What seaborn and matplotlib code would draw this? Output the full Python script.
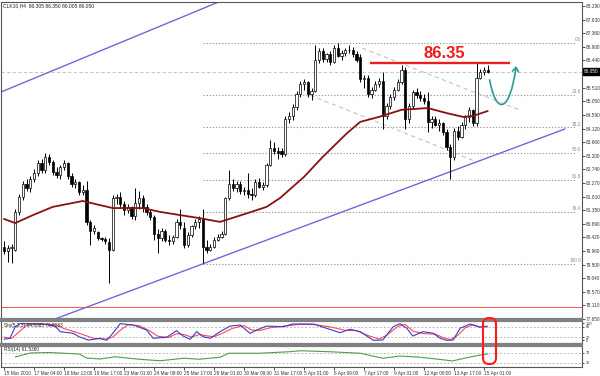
import numpy as np
import pandas as pd
import matplotlib
matplotlib.use("Agg")
import matplotlib.pyplot as plt
import seaborn as sns
from matplotlib.patches import FancyBboxPatch, FancyArrowPatch
from matplotlib.path import Path
from matplotlib.transforms import IdentityTransform

# ---------------- data ----------------
opens = [80.10, 79.95, 80.05, 80.00, 81.30, 81.80, 82.25, 82.10, 82.40, 82.60,
         82.95, 82.70, 83.15, 83.00, 82.65, 82.55, 82.80, 82.95, 82.50, 82.25,
         82.30, 81.95, 82.05, 80.95, 80.65, 80.60, 80.40, 80.38, 80.25, 80.00,
         81.75, 81.80, 81.55, 81.35, 81.45, 81.15, 81.60, 81.75, 81.45, 81.30,
         81.10, 80.55, 80.40, 80.65, 80.35, 80.30, 80.45, 80.95, 80.75, 80.15,
         80.50, 80.80, 80.95, 81.05, 80.10, 80.00, 80.10, 80.35, 80.45, 80.55,
         81.75, 82.25, 82.10, 82.25, 82.00, 82.05, 81.90, 81.85, 82.30, 82.15,
         82.20, 82.90, 83.45, 83.35, 83.35, 83.25, 84.45, 84.55, 84.85, 85.30,
         85.65, 85.70, 85.30, 85.40, 86.45, 86.75, 86.50, 86.65, 86.40, 86.85,
         86.60, 86.70, 86.80, 86.78, 86.65, 86.55, 85.80, 85.85, 85.30, 85.45,
         85.65, 85.75, 84.55, 84.90, 85.20, 85.45, 85.70, 86.10, 84.45, 84.90,
         85.35, 85.25, 85.15, 85.05, 84.35, 84.45, 84.25, 84.30, 84.00, 83.50,
         83.15, 84.05, 83.85, 84.25, 84.50, 84.75, 84.30, 85.85, 86.05, 86.10]
highs = [80.30, 80.15, 80.20, 81.40, 81.90, 82.35, 82.40, 82.50, 82.75, 83.05,
         83.10, 83.30, 83.25, 83.05, 82.80, 82.90, 83.05, 83.00, 82.60, 82.40,
         82.35, 82.20, 82.35, 81.00, 80.85, 80.65, 80.45, 80.45, 80.40, 81.85,
         81.90, 81.95, 81.65, 81.55, 81.50, 82.10, 82.00, 81.85, 81.55, 81.40,
         81.20, 80.70, 80.75, 80.70, 80.50, 80.50, 81.05, 81.40, 80.95, 80.60,
         80.85, 81.05, 81.15, 81.40, 80.35, 80.20, 80.45, 80.55, 80.65, 81.80,
         82.70, 82.40, 82.35, 82.35, 82.15, 82.60, 82.10, 82.40, 82.45, 82.30,
         82.95, 83.75, 83.65, 83.50, 83.45, 84.55, 84.70, 84.95, 85.40, 85.75,
         85.80, 85.75, 85.50, 86.95, 86.85, 86.85, 86.70, 86.75, 86.95, 87.03,
         86.80, 86.85, 86.95, 86.90, 86.75, 86.65, 85.95, 85.95, 85.55, 85.75,
         85.85, 86.05, 85.00, 85.30, 85.55, 85.80, 86.30, 86.20, 85.00, 85.45,
         85.50, 85.40, 85.30, 85.35, 84.55, 84.55, 84.45, 84.35, 84.10, 83.60,
         84.15, 84.20, 84.35, 84.60, 84.85, 84.80, 86.35, 86.15, 86.20, 86.30]
lows = [79.85, 79.60, 79.55, 79.95, 81.20, 81.70, 82.00, 81.95, 82.30, 82.50,
        82.60, 82.60, 82.90, 82.55, 82.45, 82.40, 82.70, 82.40, 82.15, 82.10,
        81.85, 81.85, 80.85, 80.15, 80.55, 80.35, 80.30, 80.20, 78.87, 79.95,
        81.55, 81.45, 81.20, 81.25, 81.05, 81.00, 81.40, 81.30, 81.20, 81.00,
        80.35, 79.90, 80.30, 80.25, 80.15, 80.20, 80.40, 80.70, 80.05, 80.10,
        80.45, 80.70, 80.75, 79.55, 79.90, 79.95, 80.05, 80.30, 80.40, 80.50,
        81.70, 82.00, 81.95, 81.90, 81.85, 81.75, 81.70, 81.80, 82.10, 82.05,
        82.15, 82.85, 83.25, 83.10, 83.15, 83.20, 84.30, 84.40, 84.75, 85.20,
        85.45, 85.20, 85.10, 85.35, 86.35, 86.40, 86.40, 86.30, 86.35, 86.55,
        86.45, 86.60, 86.70, 86.55, 86.40, 85.70, 85.50, 85.20, 85.15, 85.40,
        85.55, 84.10, 84.45, 84.80, 85.10, 85.40, 85.65, 84.10, 84.30, 84.80,
        85.15, 85.05, 84.95, 84.00, 84.15, 84.20, 84.05, 83.90, 83.40, 82.40,
        83.05, 83.75, 83.80, 84.10, 84.35, 84.20, 84.20, 85.80, 85.95, 86.00]
closes = [79.95, 80.05, 80.10, 81.30, 81.80, 82.25, 82.10, 82.40, 82.60, 82.95,
          82.70, 83.15, 83.00, 82.65, 82.55, 82.80, 82.95, 82.50, 82.25, 82.30,
          81.95, 82.05, 80.95, 80.65, 80.75, 80.40, 80.38, 80.30, 80.00, 81.75,
          81.80, 81.55, 81.35, 81.45, 81.15, 81.60, 81.75, 81.45, 81.30, 81.10,
          80.55, 80.40, 80.65, 80.35, 80.30, 80.45, 80.95, 80.85, 80.15, 80.50,
          80.80, 80.95, 81.05, 80.10, 80.00, 80.10, 80.35, 80.45, 80.55, 81.75,
          82.25, 82.10, 82.25, 82.00, 82.05, 81.90, 81.85, 82.30, 82.15, 82.20,
          82.90, 83.45, 83.35, 83.30, 83.25, 84.45, 84.55, 84.85, 85.30, 85.65,
          85.70, 85.30, 85.40, 86.45, 86.75, 86.50, 86.65, 86.40, 86.85, 86.60,
          86.70, 86.80, 86.78, 86.65, 86.45, 85.80, 85.85, 85.30, 85.45, 85.65,
          85.75, 84.55, 84.90, 85.20, 85.45, 85.70, 86.10, 84.45, 84.90, 85.35,
          85.25, 85.15, 85.05, 84.35, 84.45, 84.25, 84.30, 84.00, 83.50, 83.15,
          84.05, 83.85, 84.25, 84.50, 84.75, 84.30, 85.85, 86.05, 86.10, 86.05]

ma_bars = [0, 3, 7.7, 13, 21, 25.6, 29, 37, 41.6, 47, 52, 57.6, 65, 70, 73.6,
           80, 85, 91.5, 95, 100, 106, 113, 118, 122.4, 125, 129]
ma_vals = [81.05, 80.91, 81.18, 81.46, 81.66, 81.52, 81.42, 81.42, 81.29, 81.18,
           81.08, 80.95, 81.25, 81.46, 81.76, 82.48, 83.16, 83.97, 84.35, 84.52,
           84.76, 84.82, 84.65, 84.52, 84.55, 84.72]

lower_trend_bars = [13.6, 149.6]
lower_trend_prices = [77.65, 84.11]
upper_trend_bars = [-1.1, 70]
upper_trend_prices = [85.35, 89.10]
chan_a_bars = [95.5, 137.6]
chan_a_prices = [86.86, 84.75]
chan_b_bars = [81.6, 126.1]
chan_b_prices = [85.26, 82.99]

fib_levels = [87.03, 85.26, 84.16, 83.28, 82.39, 81.29, 79.52]
fib_labels = ['0.0', '23.6', '38.2', '50.0', '61.8', '76.4', '100.0']
fib_start, fib_end = 53, 152.5

resistance = 86.35
resistance_bars = [97.5, 135]
alert_level = 78.06
last_price = 86.05

arrow_bars = [129.5, 131.3, 134.8, 136.6]
arrow_prices = [85.78, 84.55, 84.65, 86.25]

price_ticks = [88.29, 87.83, 87.36, 86.90, 86.44, 85.98, 85.51, 85.05, 84.59, 84.12,
               83.66, 83.20, 82.74, 82.27, 81.81, 81.35, 80.89, 80.42, 79.96, 79.50,
               79.04, 78.57, 78.11, 77.65]

time_bars = list(range(0, 129, 8))
time_labels = ['15 Mar 2010', '17 Mar 04:00', '18 Mar 12:00', '19 Mar 17:00', '23 Mar 01:00',
               '24 Mar 09:00', '25 Mar 17:00', '29 Mar 01:00', '30 Mar 09:00', '31 Mar 17:00',
               '5 Apr 01:00', '6 Apr 09:00', '7 Apr 17:00', '9 Apr 01:00', '12 Apr 09:00',
               '13 Apr 17:00', '15 Apr 01:00']

stoch_k_bars = [0, 1.6, 3, 4.3, 10, 13.6, 15, 18.5, 20, 22.5, 25.6, 27.4, 29, 31, 34.5,
                38, 39.8, 43.4, 46, 47.8, 49.6, 51.4, 53.1, 55, 57.6, 60.3, 63, 65.6,
                67.4, 70, 74.4, 77, 79, 82.5, 86, 89.6, 92.3, 95, 98.5, 101, 103.8,
                105.6, 107.4, 109, 111.7, 114.5, 116.3, 118, 119.8, 121.6, 124.3,
                126.9, 128.8]
stoch_k = [8, 13, 81, 99, 98, 85, 52, 42, 22, 2, 13, 1, 42, 99, 91, 62, 13, 19, 58, 26,
           7, 52, 22, 13, 52, 85, 91, 42, 62, 85, 81, 97, 97, 97, 72, 46, 66, 52, 1, 3,
           81, 99, 72, 26, 52, 42, 13, 1, 3, 72, 97, 78, 85]
stoch_d_bars = [0, 2, 4, 6, 10, 14, 16, 19, 21, 24, 27, 29, 31, 33, 36, 39, 41, 44, 46,
                48, 50, 52, 54, 56, 58, 61, 64, 66, 68, 71, 75, 79, 83, 87, 91, 94, 97,
                100, 102, 105, 107, 109, 112, 115, 117, 119, 121, 123, 125, 127, 129]
stoch_d = [20, 12, 50, 90, 97, 92, 70, 50, 35, 12, 8, 20, 60, 92, 88, 55, 25, 18, 40,
           35, 20, 35, 28, 22, 40, 72, 88, 62, 58, 75, 85, 95, 93, 80, 60, 58, 30, 8,
           30, 82, 95, 55, 40, 38, 18, 5, 30, 75, 92, 80, 80]

rsi_bars = [3, 7, 12, 20, 22, 25.6, 29.6, 36, 41.6, 48, 52, 57.6, 60, 68, 76, 79, 87,
            95, 101, 105.6, 111, 117.6, 119.5, 124, 127, 129]
rsi_vals = [54, 70, 72, 66, 50, 46, 55, 45, 39, 49, 45, 53, 69, 69, 75, 79, 75, 69, 49,
            58, 53, 42, 38, 53, 62, 66]

# ---------------- figure ----------------
sns.set_theme(style="ticks")
plt.rcParams['font.family'] = ['Liberation Sans', 'DejaVu Sans']

W, H = 600.0, 376.0
fig = plt.figure(figsize=(6, 3.76), dpi=100)
fig.patch.set_facecolor('white')


def rect(x0, y0, x1, y1):
    return [x0 / W, 1 - y1 / H, (x1 - x0) / W, (y1 - y0) / H]


ax = fig.add_axes(rect(1, 2, 582, 319))
ax_s = fig.add_axes(rect(1, 321, 582, 344))
ax_r = fig.add_axes(rect(1, 346, 582, 367))

XMIN, XMAX = -0.8, 154.13
for a in (ax, ax_s, ax_r):
    a.set_xlim(XMIN, XMAX)
    a.set_facecolor('white')
    for s in a.spines.values():
        s.set_color('#555555')
        s.set_linewidth(0.8)
for a, side in ((ax, 'bottom'), (ax_s, 'top'), (ax_s, 'bottom'), (ax_r, 'top')):
    a.spines[side].set_linewidth(1.6)
    a.spines[side].set_color('#808080')

ax.set_ylim(77.648, 88.426)

TICK_FS = 3.4

# background levels
ax.hlines(fib_levels, fib_start, fib_end, colors='#9a9a9a', linestyles=(0, (1.2, 1.6)), lw=0.8, zorder=1)
for lv, lb in zip(fib_levels, fib_labels):
    ax.text(153.8, lv + 0.03, lb, ha='right', va='bottom', fontsize=3.4, color='#8a8a8a')
ax.axhline(last_price, color='#c8c8c8', ls=(0, (3, 2)), lw=0.8, zorder=1)
ax.axhline(alert_level, color='#ff5050', lw=0.7, zorder=1)

sns.lineplot(x=chan_a_bars, y=chan_a_prices, ax=ax, color='#c4c4c4', lw=0.8, ls=(0, (4, 3)), sort=False, estimator=None, zorder=2)
sns.lineplot(x=chan_b_bars, y=chan_b_prices, ax=ax, color='#c4c4c4', lw=0.8, ls=(0, (4, 3)), sort=False, estimator=None, zorder=2)

sns.lineplot(x=lower_trend_bars, y=lower_trend_prices, ax=ax, color='#6b6bd6', lw=1.0, sort=False, estimator=None, zorder=2)
sns.lineplot(x=upper_trend_bars, y=upper_trend_prices, ax=ax, color='#6b6bd6', lw=1.0, sort=False, estimator=None, zorder=2)

# candles
idx = np.arange(len(closes))
o = np.array(opens)
c = np.array(closes)
hi = np.array(highs)
lo = np.array(lows)
bull = c >= o
ax.vlines(idx, lo, hi, color='black', lw=0.7, zorder=3)
body_bottom = np.minimum(o, c)
body_h = np.maximum(np.abs(c - o), 0.025)
ax.bar(idx, body_h, bottom=body_bottom, width=0.62,
       color=np.where(bull, 'white', 'black'), edgecolor='black', linewidth=0.5, zorder=4)

# moving average
sns.lineplot(x=ma_bars, y=ma_vals, ax=ax, color='#8b1010', lw=1.3, sort=False, estimator=None, zorder=5)

# resistance
ax.hlines(resistance, resistance_bars[0], resistance_bars[1], colors='#ee1c1c', lw=1.7, zorder=6)
ax.text(117.5, 86.52, '86.35', color='#ee1c1c', fontsize=12, fontweight='bold',
        ha='center', va='baseline', zorder=7)

# curved arrow
apath = Path(list(zip(arrow_bars, arrow_prices)), [Path.MOVETO, Path.CURVE4, Path.CURVE4, Path.CURVE4])
arrow = FancyArrowPatch(path=apath, arrowstyle='->,head_length=3,head_width=2.2',
                        color='#2a9a9a', lw=1.2, transform=ax.transData, zorder=7)
ax.add_patch(arrow)

# title
ax.text(0.003, 0.996, 'CLK10,H4  86.305 86.350 86.005 86.050', transform=ax.transAxes,
        fontsize=3.6, va='top', ha='left', color='#222222')

# price axis (the label hidden behind the current-price marker is left blank)
ax.yaxis.tick_right()
ax.set_yticks(price_ticks)
ax.set_yticklabels(['' if abs(v - last_price) < 0.2 else f'{v:.3f}' for v in price_ticks])
ax.tick_params(axis='y', right=True, left=False, direction='out', length=2, width=0.6,
               pad=1.0, labelsize=TICK_FS, colors='#333333')
ax.tick_params(axis='x', bottom=False, labelbottom=False)
ax.set_xlabel('')
ax.set_ylabel('')
ax.annotate(f'{last_price:.3f}', xy=(1, last_price), xycoords=('axes fraction', 'data'),
            xytext=(1.6, 0), textcoords='offset points', fontsize=TICK_FS, color='white',
            va='center', ha='left', annotation_clip=False,
            bbox=dict(boxstyle='square,pad=0.2', fc='black', ec='black'))

# stochastic panel
ax_s.set_ylim(-20.6, 114.7)
for lv in (80, 20):
    ax_s.axhline(lv, color='#a8a8a8', ls=(0, (2, 2.5)), lw=0.6, zorder=1)
sns.lineplot(x=stoch_k_bars, y=stoch_k, ax=ax_s, color='#3a3ad0', lw=0.8, sort=False, estimator=None, zorder=3)
sns.lineplot(x=stoch_d_bars, y=stoch_d, ax=ax_s, color='#ff4a4a', lw=0.8, sort=False, estimator=None, zorder=2)
ax_s.text(0.005, 0.93, 'Sto(5,3,3) 84.5365 79.9183', transform=ax_s.transAxes, fontsize=3.4,
          va='top', ha='left', color='#222222')
ax_s.yaxis.tick_right()
ax_s.set_yticks([100, 80, 20, 0])
ax_s.set_yticklabels(['100', '80', '20', '0'])
ax_s.tick_params(axis='y', right=True, left=False, direction='out', length=1.5, width=0.6,
                 pad=1.0, labelsize=2.8, colors='#333333')
ax_s.tick_params(axis='x', bottom=False, labelbottom=False)
ax_s.set_xlabel('')
ax_s.set_ylabel('')

# RSI panel
ax_r.set_ylim(14, 98)
for lv in (70, 30):
    ax_r.axhline(lv, color='#a8a8a8', ls=(0, (2, 2.5)), lw=0.6, zorder=1)
sns.lineplot(x=rsi_bars, y=rsi_vals, ax=ax_r, color='#4aa04a', lw=0.8, sort=False, estimator=None, zorder=3)
ax_r.text(0.005, 0.93, 'RSI(14) 61.5360', transform=ax_r.transAxes, fontsize=3.4,
          va='top', ha='left', color='#222222')
ax_r.yaxis.tick_right()
ax_r.set_yticks([70, 30])
ax_r.set_yticklabels(['70', '30'])
ax_r.tick_params(axis='y', right=True, left=False, direction='out', length=1.5, width=0.6,
                 pad=1.0, labelsize=2.8, colors='#333333')
ax_r.set_xticks(time_bars)
ax_r.set_xticklabels(time_labels, ha='left')
ax_r.tick_params(axis='x', bottom=True, direction='out', length=2, width=0.6, pad=1,
                 labelsize=TICK_FS, colors='#333333')
ax_r.set_xlabel('')
ax_r.set_ylabel('')

# highlight box around latest oscillator values
box = FancyBboxPatch((483, H - 364), 13, 46, boxstyle='round,pad=0,rounding_size=6',
                     transform=IdentityTransform(), fill=False, ec='#ff1a1a', lw=1.5, zorder=10)
fig.add_artist(box)

fig.savefig('out.png', dpi=100, facecolor='white')
